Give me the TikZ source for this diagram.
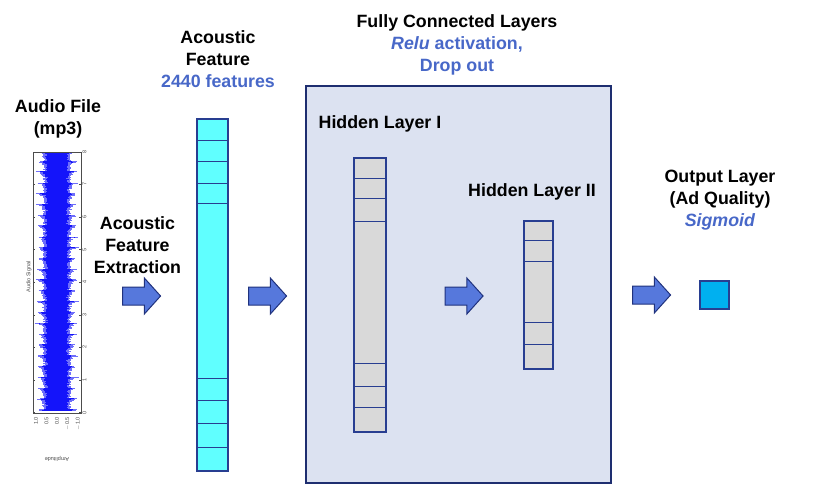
\documentclass[tikz,border=0pt]{standalone}
\usepackage{fontspec}
\setmainfont{Liberation Sans}
\usetikzlibrary{shapes.arrows}
\definecolor{colborder}{RGB}{40,62,145}
\definecolor{featfill}{RGB}{96,255,255}
\definecolor{boxfill}{RGB}{220,226,241}
\definecolor{boxborder}{RGB}{30,46,112}
\definecolor{arrfill}{RGB}{86,120,220}
\definecolor{arrborder}{RGB}{32,50,125}
\definecolor{grayfill}{RGB}{217,217,217}
\definecolor{outfill}{RGB}{0,176,240}
\definecolor{bluetxt}{RGB}{72,104,200}
\definecolor{wavecol}{RGB}{20,20,250}
\definecolor{wavelight}{RGB}{110,110,250}
\begin{document}
\begin{tikzpicture}[x=1pt,y=-1pt,
  title/.style={font=\bfseries\fontsize{17.8}{21.8}\selectfont, align=center, inner sep=0pt},
  col/.style={draw=colborder, line width=1.3pt, inner sep=0pt},
  featcol/.style={col, fill=featfill},
  hidcol/.style={col, fill=grayfill},
  div/.style={draw=colborder, line width=1.6pt},
  bigarrow/.style={single arrow, draw=arrborder, fill=arrfill, line width=1pt,
    minimum height=38pt, minimum width=35pt, single arrow head extend=9pt,
    single arrow tip angle=96, inner xsep=0pt, inner ysep=8.5pt},
  tiny/.style={font=\fontsize{5.5}{6}\selectfont, inner sep=0pt, text=black!70},
  wave/.style={draw=wavecol, line width=0.9pt},
  wavel/.style={draw=wavelight, line width=0.9pt}]
\useasboundingbox (0,0) rectangle (830,485);

% big box
\node[draw=boxborder, fill=boxfill, line width=1.5pt, minimum width=305pt, minimum height=397pt, inner sep=0pt] (fc) at (458.5,284.5) {};

% titles
\node[title] (tAudio) at (58,118.5) {Audio File\\(mp3)};
\node[title] (tExtr) at (137.5,245) {Acoustic\\Feature\\Extraction};
\node[title] (tFeat) at (218,59) {Acoustic\\Feature\\\textcolor{bluetxt}{2440 features}};
\node[title] (tFC) at (457,45) {Fully Connected Layers\\\textcolor{bluetxt}{\textit{Relu} activation,}\\\textcolor{bluetxt}{Drop out}};
\node[title] (tH1) at (380,124) {Hidden Layer I};
\node[title] (tH2) at (532,192) {Hidden Layer II};
\node[title] (tOut) at (720,200) {Output Layer\\(Ad Quality)\\\textcolor{bluetxt}{\textit{Sigmoid}}};

% waveform plot
\begin{scope}
\pgfmathsetseed{7}
\foreach \i in {0,...,368} {
  \pgfmathsetmacro\yy{153+\i*0.7}
  \pgfmathsetmacro\ph{mod(\i*0.7+3,10.8)}
  \pgfmathsetmacro\env{exp(-\ph/2.3)}
  \pgfmathsetmacro\wl{min(23,11.5+2.5*rnd+11*\env*(0.5+0.5*rnd))}
  \pgfmathsetmacro\wr{min(23,11.5+2.5*rnd+11*\env*(0.5+0.5*rnd))}
  \pgfmathsetmacro\cl{\wl*(0.75+0.1*rnd)}
  \pgfmathsetmacro\cr{\wr*(0.75+0.1*rnd)}
  \draw[wavel] (57-\wl,\yy) -- (57+\wr,\yy);
  \draw[wave] (57-\cl,\yy) -- (57+\cr,\yy);
}
\end{scope}
\node[draw=black!70, line width=0.6pt, minimum width=48pt, minimum height=261pt, inner sep=0pt] (plot) at (57,282.5) {};
\foreach \k in {0,...,8} {
  \pgfmathsetmacro\ty{412.5-\k*32.6}
  \draw[black!70, line width=0.4pt] (33,\ty) -- (35,\ty);
  \draw[black!70, line width=0.4pt] (79,\ty) -- (81,\ty);
  \node[tiny, rotate=90] (rt\k) at (84.5,\ty) {\k};
}
\foreach \lab [count=\j from 0] in {1.0,0.5,0.0,$-$0.5,$-$1.0} {
  \pgfmathsetmacro\tx{36+\j*10.5}
  \node[tiny, rotate=90, anchor=east] (bt\j) at (\tx,417) {\lab};
}
\node[tiny, rotate=90] (ylab) at (29,277) {Audio Signal};
\node[tiny, rotate=180] (xlab) at (57,459) {Amplitude};

% feature column
\node[featcol, minimum width=31pt, minimum height=352pt] (feat) at (212.5,295) {};
\foreach \o in {22,43,65,85,260,282,305,329}
  \draw[div] ([yshift=-\o pt]feat.north west) -- ([yshift=-\o pt]feat.north east);

% hidden layer I
\node[hidcol, minimum width=32pt, minimum height=274pt] (h1) at (370,295) {};
\foreach \o in {21,41,64,206,229,250}
  \draw[div] ([yshift=-\o pt]h1.north west) -- ([yshift=-\o pt]h1.north east);

% hidden layer II
\node[hidcol, minimum width=29pt, minimum height=148pt] (h2) at (538.5,295) {};
\foreach \o in {20,41,102,124}
  \draw[div] ([yshift=-\o pt]h2.north west) -- ([yshift=-\o pt]h2.north east);

% output
\node[col, fill=outfill, minimum width=29pt, minimum height=28pt] (out) at (714.5,295) {};

% arrows
\node[bigarrow] (a1) at (137.5,296) {};
\node[bigarrow] (a2) at (263.5,296) {};
\node[bigarrow] (a3) at (460,296) {};
\node[bigarrow] (a4) at (647.5,295) {};
\end{tikzpicture}
\end{document}
